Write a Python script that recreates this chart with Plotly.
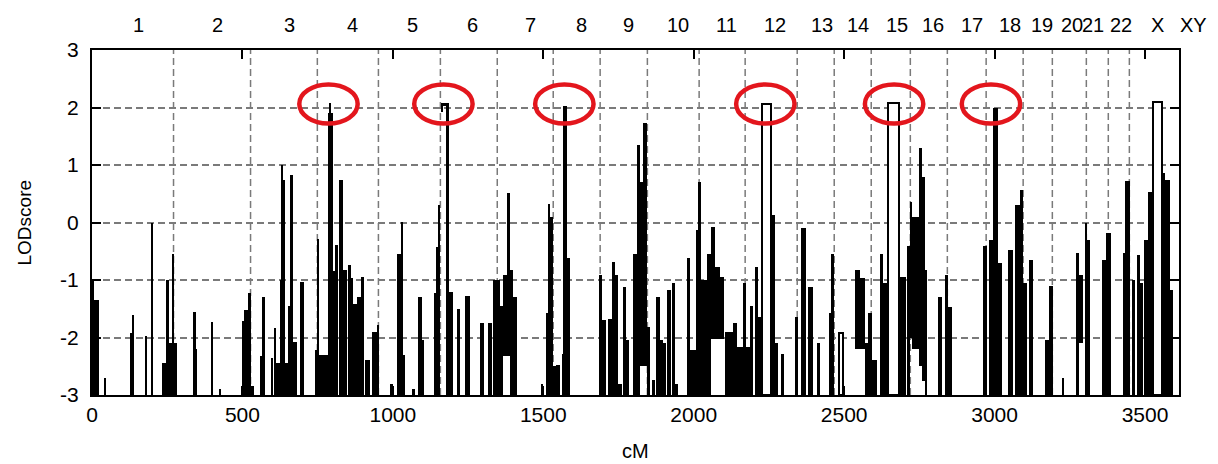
import plotly.graph_objects as go

# ---------------- data (cM positions, LOD values) ----------------
seg_start = [
    2, 8, 40, 128, 136, 179, 198, 234, 246, 255, 266, 274,
    337, 345, 394, 424, 499, 505, 521, 528,
    560, 565, 596, 604, 613, 626, 630, 636, 643, 653, 659, 669, 693, 742, 749, 756,
    784, 790, 803, 809, 822, 835, 852, 860, 869, 882, 894, 909, 932, 949,
    992, 1015, 1026, 1035, 1065, 1085, 1096, 1138, 1146, 1151, 1163, 1163, 1178, 1188, 1214, 1241, 1291, 1317,
    1334, 1357, 1367, 1380, 1390, 1400, 1494, 1510, 1517, 1523, 1533, 1543, 1563,
    1567, 1580,
    1686, 1694, 1716, 1729, 1739, 1749, 1764, 1776, 1799, 1812, 1822, 1832, 1844, 1862, 1875, 1889, 1899, 1912, 1929, 1939,
    1979, 1986, 2010, 2015, 2023, 2045, 2058, 2071, 2088, 2105, 2131, 2145, 2164, 2174, 2188, 2204, 2214,
    2261, 2271, 2291, 2338, 2355, 2381, 2411, 2451, 2457,
    2536, 2553, 2570, 2580, 2593, 2619, 2629, 2683, 2710, 2720, 2727, 2750, 2760, 2770,
    2812, 2836, 2846,
    2962, 2981, 2995, 3011,
    3045, 3068, 3085, 3095, 3114,
    3168, 3181, 3224,
    3271, 3281, 3301, 3307,
    3357, 3371,
    3427, 3433, 3457, 3473, 3483,
    3497, 3510, 3557, 3567, 3583,
]
seg_end = [
    8, 22, 45, 133, 141, 184, 204, 246, 255, 266, 274, 282,
    345, 350, 402, 430, 505, 521, 527, 540,
    565, 576, 601, 613, 626, 630, 636, 643, 653, 659, 669, 681, 706, 749, 756, 784,
    801, 794, 809, 819, 835, 848, 860, 869, 882, 894, 905, 925, 949, 953,
    1002, 1026, 1035, 1041, 1075, 1096, 1105, 1146, 1151, 1158, 1188, 1166, 1188, 1201, 1224, 1257, 1304, 1331,
    1357, 1367, 1380, 1390, 1400, 1414, 1500, 1517, 1523, 1533, 1543, 1556, 1568,
    1580, 1590,
    1694, 1709, 1729, 1739, 1749, 1763, 1776, 1786, 1812, 1822, 1832, 1844, 1854, 1872, 1889, 1899, 1909, 1925, 1939, 1949,
    1986, 2006, 2015, 2023, 2045, 2058, 2071, 2088, 2101, 2131, 2145, 2164, 2174, 2188, 2198, 2214, 2224,
    2271, 2281, 2301, 2348, 2372, 2397, 2421, 2457, 2467,
    2553, 2570, 2580, 2593, 2609, 2629, 2646, 2704, 2720, 2727, 2750, 2760, 2770, 2776,
    2826, 2846, 2859,
    2975, 2995, 3011, 3024,
    3061, 3085, 3095, 3108, 3127,
    3181, 3194, 3231,
    3281, 3294, 3307, 3317,
    3371, 3387,
    3433, 3450, 3467, 3483, 3493,
    3510, 3524, 3567, 3583, 3593,
]
seg_top = [
    -1.0, -1.35, -2.7, -1.93, -1.6, -1.97, 0.0, -2.45, -1.0, -2.1, -0.55, -2.1,
    -1.55, -2.2, -1.73, -2.9, -1.72, -1.52, -1.23, -2.85,
    -2.33, -1.29, -2.35, -1.84, -2.45, -1.0, 1.0, 0.74, -2.45, -1.46, 0.83, -2.07, -1.03, -2.22, -0.28, -2.3,
    1.9, 2.08, -0.85, -0.39, 0.74, -0.83, -0.74, -0.97, -1.41, -1.29, -0.94, -2.39, -1.9, -1.78,
    -2.8, -0.54, 0.01, -2.3, -2.9, -1.29, -2.04, -1.23, -0.42, 0.3, 2.07, 2.07, 2.06, -1.2, -1.5, -1.27, -1.75, -1.75,
    -1.0, -1.46, -0.91, 0.52, -0.83, -1.29, -2.8, -1.58, 0.33, 0.1, -2.5, -2.48, -2.28,
    2.03, -0.62,
    -0.91, -1.7, -1.67, -0.68, -0.91, -2.8, -1.12, -2.04, -0.54, 1.35, 0.71, 1.73, -1.81, -2.74, -1.29, -2.04, -2.1, -1.17, -1.06, -2.8,
    -0.62, -2.22, -0.13, 0.71, -1.0, -0.54, -0.07, -0.77, -0.94, -1.9, -1.75, -2.16, -1.06, -2.16, -1.46, -0.77, -1.64,
    0.13, -2.1, -2.28, -1.64, -0.1, -1.12, -2.1, -1.58, -0.54,
    -0.83, -0.97, -2.1, -1.58, -2.39, -0.55, -1.05, -0.95, -0.4, 0.36, 0.1, 1.3, 0.8, -0.83,
    -1.3, -0.92, -1.47,
    -0.4, -0.3, 2.0, -0.7,
    -0.47, 0.3, 0.57, -1.05, -0.65,
    -2.05, -1.1, -2.7,
    -0.53, -0.92, 0.0, -0.3,
    -0.65, -0.18,
    -0.53, 0.73, -1.0, -0.57, -1.05,
    -0.3, 0.53, 0.86, 0.74, -1.17,
]
seg_low = [
    -3, -3, -3, -3, -3, -3, -3, -3, -3, -3, -3, -3,
    -3, -3, -3, -3, -3, -3, -3, -3,
    -3, -3, -3, -3, -3, -3, -3, -3, -3, -3, -3, -3, -3, -3, -3, -3,
    -3, -3, -3, -3, -3, -3, -3, -3, -3, -3, -3, -3, -3, -3,
    -3, -3, -3, -3, -3, -3, -3, -3, -3, -3, 2.02, 1.93, -3, -3, -3, -3, -3, -3,
    -3, -3, -2.33, -2.33, -3, -3, -3, -3, -3, -3, -3, -3, -3,
    -3, -3,
    -3, -3, -3, -3, -3, -3, -3, -3, -3, -3, -2.5, -2.5, -3, -3, -3, -3, -3, -3, -3, -3,
    -3, -3, -3, -3, -3, -3, -2.03, -2.03, -2.03, -3, -3, -3, -3, -3, -3, -3, -3,
    -3, -3, -3, -3, -3, -3, -3, -3, -3,
    -2.2, -2.2, -3, -3, -3, -3, -3, -3, -3, -2.0, -2.2, -2.5, -2.75, -3,
    -3, -3, -3,
    -3, -3, -3, -3,
    -3, -3, -3, -3, -3,
    -3, -3, -3,
    -3, -2.1, -3, -3,
    -3, -3,
    -3, -3, -3, -3, -3,
    -3, -3, -3, -3, -3,
]

# plateau peaks drawn as open outlines
open_start = [2226, 2482, 2646, 3527]
open_end = [2257, 2496, 2683, 3557]
open_top = [2.06, -1.93, 2.08, 2.1]

chrom_bounds = [271, 527, 749, 952, 1158, 1347, 1533, 1689, 1846, 2018, 2171,
                2344, 2467, 2590, 2720, 2843, 2972, 3095, 3192, 3305, 3378, 3448]
chrom_names = [str(i) for i in range(1, 23)] + ["X", "XY"]
chrom_label_cm = [153, 417, 656, 867, 1065, 1264, 1457, 1626, 1782, 1948, 2108,
                  2271, 2427, 2547, 2676, 2796, 2925, 3051, 3158, 3257, 3327,
                  3420, 3543, 3660]
highlight_cm = [786, 1168, 1570, 2238, 2666, 2988]
highlight_lod = 2.06
x_ticks = [0, 500, 1000, 1500, 2000, 2500, 3000, 3500]
y_ticks = [-3, -2, -1, 0, 1, 2, 3]
y_tick_text = ["-3", "-2", "-1", "0", "1", "2", "3"]
X_MAX = 3613
Y_MIN, Y_MAX = -3, 3

assert len(seg_start) == len(seg_end) == len(seg_top) == len(seg_low), (
    len(seg_start), len(seg_end), len(seg_top), len(seg_low))

FONT = "Liberation Sans"
GRID = "#7a7a7a"

fig = go.Figure()
fig.add_trace(go.Bar(
    x=[(s + e) / 2 for s, e in zip(seg_start, seg_end)],
    width=[e - s for s, e in zip(seg_start, seg_end)],
    base=seg_low,
    y=[t - l for t, l in zip(seg_top, seg_low)],
    marker=dict(color="black", line=dict(width=0)),
    opacity=1, hoverinfo="skip",
))
fig.add_trace(go.Bar(
    x=[(s + e) / 2 for s, e in zip(open_start, open_end)],
    width=[e - s for s, e in zip(open_start, open_end)],
    base=[Y_MIN] * len(open_start),
    y=[t - Y_MIN for t in open_top],
    marker=dict(color="white", line=dict(color="black", width=2)),
    opacity=1, hoverinfo="skip",
))

shapes = []
for b in chrom_bounds:
    shapes.append(dict(type="line", xref="x", yref="y", x0=b, x1=b, y0=Y_MIN, y1=Y_MAX,
                       line=dict(color=GRID, width=1.5, dash="7px,4px"), layer="below"))
for c in highlight_cm:
    shapes.append(dict(type="circle", xref="x", yref="y",
                       x0=c - 97, x1=c + 97, y0=highlight_lod - 0.34, y1=highlight_lod + 0.34,
                       line=dict(color="#e3161d", width=4.5), layer="above"))

annotations = []
for name, pos in zip(chrom_names, chrom_label_cm):
    annotations.append(dict(x=pos / X_MAX, y=1, xref="paper", yref="paper", text=name,
                            showarrow=False, yshift=25, xanchor="center", yanchor="middle",
                            font=dict(family=FONT, size=20, color="black")))
annotations.append(dict(x=0, y=0.5, xref="paper", yref="paper", text="LODscore", showarrow=False,
                        textangle=-90, xshift=-68, xanchor="center", yanchor="middle",
                        font=dict(family=FONT, size=19, color="black")))
annotations.append(dict(x=0.5, y=0, xref="paper", yref="paper", text="cM", showarrow=False,
                        yshift=-56, xanchor="center", yanchor="middle",
                        font=dict(family=FONT, size=20, color="black")))

fig.update_layout(
    width=1218, height=464,
    margin=dict(l=92, r=39, t=50, b=69),
    paper_bgcolor="white", plot_bgcolor="white",
    barmode="overlay", bargap=0, showlegend=False,
    shapes=shapes, annotations=annotations,
    font=dict(family=FONT, size=20, color="black"),
    xaxis=dict(range=[0, X_MAX], tickvals=x_ticks, ticks="inside", ticklen=9, tickwidth=2,
               tickcolor="black", showline=True, linecolor="black", linewidth=2,
               mirror="allticks", showgrid=False, zeroline=False,
               tickfont=dict(family=FONT, size=21, color="black")),
    yaxis=dict(range=[Y_MIN, Y_MAX], tickvals=y_ticks, ticktext=y_tick_text,
               ticks="inside", ticklen=9, tickwidth=2, ticklabelstandoff=7,
               tickcolor="black", showline=True, linecolor="black", linewidth=2,
               mirror="allticks", showgrid=True, gridcolor=GRID, gridwidth=1.5,
               griddash="7px,4px", zeroline=False,
               tickfont=dict(family=FONT, size=21, color="black")),
)

fig.write_html("out.html")
